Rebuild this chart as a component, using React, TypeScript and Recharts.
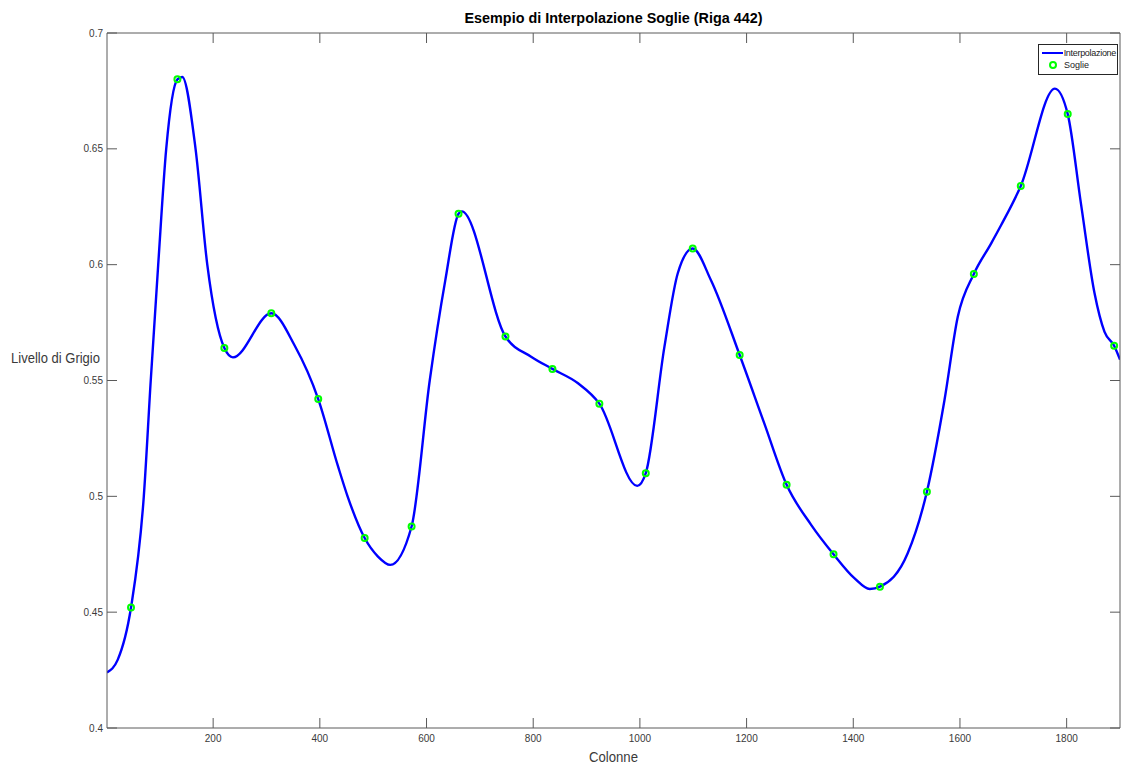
import React from 'react';
import { ComposedChart, Line, Scatter, XAxis, YAxis, Legend } from 'recharts';

// Threshold columns (block centres) and threshold values (Soglie)
const SOGLIE_COLS = [46, 133, 221, 309, 397, 484, 572, 660, 748, 836, 924, 1011, 1099, 1187, 1275, 1363, 1450, 1538, 1626, 1714, 1802, 1889];
const SOGLIE_VALS = [0.452, 0.68, 0.564, 0.579, 0.542, 0.482, 0.487, 0.622, 0.569, 0.555, 0.54, 0.51, 0.607, 0.561, 0.505, 0.475, 0.461, 0.502, 0.596, 0.634, 0.665, 0.565];

// Additional samples of the interpolated curve
const CURVE_EXTRA_COLS = [1, 21, 70, 83, 97, 112, 142, 167, 189, 237, 353, 434, 452, 509, 532, 606, 635, 666, 796, 884, 995, 1046, 1071, 1133, 1233, 1321, 1402, 1431, 1502, 1571, 1596, 1658, 1677, 1778, 1827, 1852, 1871, 1900];
const CURVE_EXTRA_VALS = [0.424, 0.4294, 0.5, 0.55, 0.6, 0.65, 0.681, 0.65, 0.6, 0.56, 0.565, 0.513, 0.5, 0.474, 0.4704, 0.55, 0.593, 0.623, 0.5603, 0.5488, 0.5045, 0.5646, 0.5963, 0.5934, 0.5316, 0.4877, 0.4647, 0.46, 0.4754, 0.5416, 0.5776, 0.609, 0.617, 0.676, 0.626, 0.588, 0.571, 0.559];

const X_DOMAIN = [1, 1900];
const Y_DOMAIN = [0.4, 0.7];
const X_TICKS = [200, 400, 600, 800, 1000, 1200, 1400, 1600, 1800];
const Y_TICKS = [0.4, 0.45, 0.5, 0.55, 0.6, 0.65, 0.7];

const TITLE = 'Esempio di Interpolazione Soglie (Riga 442)';
const X_LABEL = 'Colonne';
const Y_LABEL = 'Livello di Grigio';
const LEGEND_LINE = 'Interpolazione';
const LEGEND_MARK = 'Soglie';

const soglieData = SOGLIE_COLS.map((x, i) => ({ x, y: SOGLIE_VALS[i] }));
const curveData = [
  ...soglieData,
  ...CURVE_EXTRA_COLS.map((x, i) => ({ x, y: CURVE_EXTRA_VALS[i] })),
].sort((a, b) => a.x - b.x);

const FONT = "'Liberation Sans', Arial, Helvetica, sans-serif";
const AXIS_COLOR = '#5a5a5a';
const TEXT_COLOR = '#3a3a3a';
const BLUE = '#0000ff';
const GREEN = '#00ff00';

const CircleShape = (props: any) => {
  const { cx, cy } = props;
  if (cx == null || cy == null) return <g />;
  return <circle cx={cx} cy={cy} r={3} fill="none" stroke={GREEN} strokeWidth={2} />;
};

const LegendBox = () => (
  <div
    style={{
      border: '1px solid #262626',
      background: '#fff',
      width: 80,
      boxSizing: 'border-box',
      fontFamily: FONT,
      fontSize: 9,
      color: '#222',
      padding: '2px 1px 3px 2px',
      lineHeight: '12px',
    }}
  >
    <div style={{ display: 'flex', alignItems: 'center', height: 12 }}>
      <svg width={22} height={12}>
        <line x1={1} y1={6} x2={22} y2={6} stroke={BLUE} strokeWidth={2} />
      </svg>
      <span style={{ marginLeft: 1, letterSpacing: -0.3 }}>{LEGEND_LINE}</span>
    </div>
    <div style={{ display: 'flex', alignItems: 'center', height: 12 }}>
      <svg width={22} height={12}>
        <circle cx={12} cy={6} r={3} fill="none" stroke={GREEN} strokeWidth={2} />
      </svg>
      <span style={{ marginLeft: 1 }}>{LEGEND_MARK}</span>
    </div>
  </div>
);

const fmtY = (v: number) => String(Number(v.toFixed(2)));

export default function App() {
  return (
    <div style={{ position: 'absolute', left: 0, top: 0, width: 1122, height: 767, background: '#fff' }}>
      <ComposedChart width={1122} height={767} margin={{ top: 0, right: 0, bottom: 0, left: 0 }}>
        <XAxis
          xAxisId="bottom"
          dataKey="x"
          type="number"
          domain={X_DOMAIN}
          ticks={X_TICKS}
          allowDataOverflow
          orientation="bottom"
          height={39}
          tickSize={-10}
          tickMargin={17}
          axisLine={{ stroke: AXIS_COLOR, strokeWidth: 1 }}
          tickLine={{ stroke: AXIS_COLOR, strokeWidth: 1 }}
          tick={{ fill: TEXT_COLOR, fontSize: 10, fontFamily: FONT }}
          label={{
            content: (p: any) => {
              const vb = p.viewBox || {};
              return (
                <text x={vb.x + vb.width / 2} y={vb.y + 34} textAnchor="middle" fontFamily={FONT} fontSize={15} fill={TEXT_COLOR} textLength={49} lengthAdjust="spacingAndGlyphs">
                  {X_LABEL}
                </text>
              );
            },
          }}
        />
        <XAxis
          xAxisId="top"
          dataKey="x"
          type="number"
          domain={X_DOMAIN}
          ticks={X_TICKS}
          allowDataOverflow
          orientation="top"
          height={33}
          tickSize={-10}
          axisLine={{ stroke: AXIS_COLOR, strokeWidth: 1 }}
          tickLine={{ stroke: AXIS_COLOR, strokeWidth: 1 }}
          tick={() => <g />}
          label={{
            content: (p: any) => {
              const vb = p.viewBox || {};
              return (
                <text x={vb.x + vb.width / 2} y={23} textAnchor="middle" fontFamily={FONT} fontSize={15} fontWeight="bold" fill="#000" textLength={298} lengthAdjust="spacingAndGlyphs">
                  {TITLE}
                </text>
              );
            },
          }}
        />
        <YAxis
          yAxisId="left"
          type="number"
          domain={Y_DOMAIN}
          ticks={Y_TICKS}
          allowDataOverflow
          orientation="left"
          width={107}
          tickSize={-10}
          tickMargin={14}
          tickFormatter={fmtY}
          axisLine={{ stroke: AXIS_COLOR, strokeWidth: 1 }}
          tickLine={{ stroke: AXIS_COLOR, strokeWidth: 1 }}
          tick={{ fill: TEXT_COLOR, fontSize: 10, fontFamily: FONT }}
          label={{
            content: (p: any) => {
              const vb = p.viewBox || {};
              return (
                <text x={11} y={vb.y + vb.height / 2 - 18} textAnchor="start" fontFamily={FONT} fontSize={14} fill={TEXT_COLOR} textLength={89} lengthAdjust="spacingAndGlyphs">
                  {Y_LABEL}
                </text>
              );
            },
          }}
        />
        <YAxis
          yAxisId="right"
          type="number"
          domain={Y_DOMAIN}
          ticks={Y_TICKS}
          allowDataOverflow
          orientation="right"
          width={2}
          tickSize={-10}
          axisLine={{ stroke: AXIS_COLOR, strokeWidth: 1 }}
          tickLine={{ stroke: AXIS_COLOR, strokeWidth: 1 }}
          tick={() => <g />}
        />
        <Legend
          layout="vertical"
          align="center"
          verticalAlign="middle"
          wrapperStyle={{ position: 'absolute', top: 44, left: 1038, width: 80, height: 33 }}
          content={() => <LegendBox />}
        />
        <Line
          xAxisId="bottom"
          yAxisId="left"
          data={curveData}
          dataKey="y"
          type="monotone"
          stroke={BLUE}
          strokeWidth={2.4}
          dot={false}
          activeDot={false}
          isAnimationActive={false}
          legendType="none"
        />
        <Scatter
          xAxisId="bottom"
          yAxisId="left"
          data={soglieData}
          dataKey="y"
          shape={CircleShape}
          isAnimationActive={false}
          legendType="none"
        />
      </ComposedChart>
    </div>
  );
}
